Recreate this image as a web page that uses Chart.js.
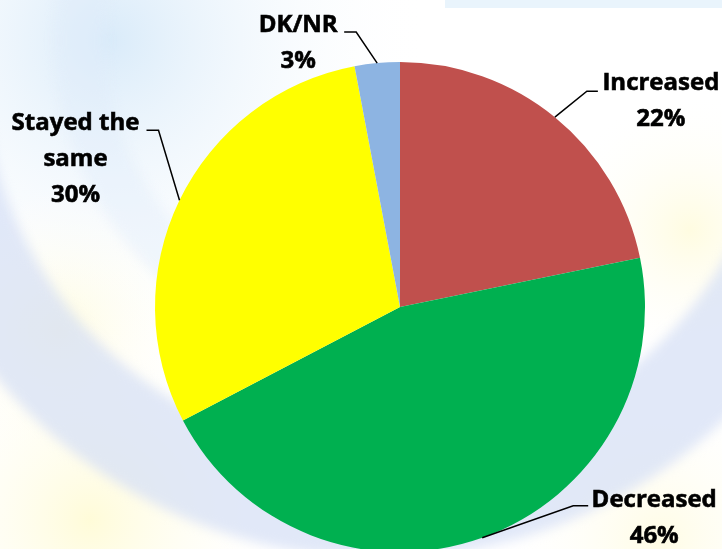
<!DOCTYPE html>
<html>
<head>
<meta charset="utf-8">
<script src="https://cdn.jsdelivr.net/npm/chart.js@4/dist/chart.umd.min.js"></script>
<style>
  html, body { margin: 0; padding: 0; background: #fff; overflow: hidden; }
  #wrap { width: 722px; height: 549px; overflow: hidden; }
</style>
</head>
<body>
<div id="wrap"><canvas id="pieChart" width="722" height="552"></canvas></div>
<script>
// data
var categories = ['Increased', 'Decreased', ['Stayed the', 'same'], 'DK/NR'];
var shares = [22, 46, 30, 3];
var sliceColors = ['#C0504D', '#00B050', '#FFFF00', '#8DB4E2'];

// where each label sits relative to the point on the rim (mid angle of the slice)
var leader = [
  { ex: 32, ey: -26, hx: 43, lx: 106, ly: -27 },
  { ex: 91, ey: -32, hx: 106, lx: 172, ly: -31 },
  { ex: -21, ey: -70, hx: -33, lx: -104, ly: -70 },
  { ex: -21, ey: -31, hx: -33, lx: -79, ly: -31 }
];

// faded watermark behind the chart
var backdrop = {
  id: 'backdrop',
  beforeDraw: function(chart) {
    var ctx = chart.ctx;
    ctx.save();
    ctx.fillStyle = '#ffffff';
    ctx.fillRect(0, 0, chart.width, chart.height);

    function glow(x, y, r, col) {
      var g = ctx.createRadialGradient(x, y, 0, x, y, r);
      g.addColorStop(0, col);
      g.addColorStop(1, 'rgba(255,255,255,0)');
      ctx.fillStyle = g;
      ctx.fillRect(0, 0, chart.width, chart.height);
    }
    glow(110, 40, 320, 'rgba(208,230,248,0.8)');
    glow(60, 330, 150, 'rgba(255,250,205,0.6)');
    glow(90, 520, 200, 'rgba(255,250,200,0.7)');
    glow(690, 230, 140, 'rgba(255,250,205,0.6)');
    glow(660, 540, 160, 'rgba(255,250,210,0.6)');

    ctx.filter = 'blur(6px)';
    ctx.beginPath();
    ctx.arc(380, 60, 448, 0.25, Math.PI - 0.1);
    ctx.lineWidth = 100;
    ctx.strokeStyle = 'rgba(212,222,245,0.7)';
    ctx.stroke();
    ctx.beginPath();
    ctx.arc(380, 40, 300, Math.PI * 0.6, Math.PI * 1.15);
    ctx.lineWidth = 50;
    ctx.strokeStyle = 'rgba(222,236,250,0.4)';
    ctx.stroke();
    ctx.filter = 'none';

    ctx.fillStyle = 'rgba(228,241,251,0.8)';
    ctx.fillRect(445, 0, 277, 8);
    ctx.restore();
  }
};

var leaderLabels = {
  id: 'leaderLabels',
  afterDatasetsDraw: function(chart) {
    var ctx = chart.ctx;
    var arcs = chart.getDatasetMeta(0).data;
    ctx.save();
    ctx.font = 'bold 24px "Open Sans"';
    ctx.fillStyle = '#000';
    ctx.strokeStyle = '#000';
    ctx.textAlign = 'center';
    ctx.textBaseline = 'alphabetic';
    arcs.forEach(function(arc, i) {
      var p = arc.getProps(['x', 'y', 'startAngle', 'endAngle', 'outerRadius'], true);
      var mid = (p.startAngle + p.endAngle) / 2;
      var ax = p.x + Math.cos(mid) * p.outerRadius;
      var ay = p.y + Math.sin(mid) * p.outerRadius;
      var L = leader[i];
      ctx.lineWidth = 1.5;
      ctx.beginPath();
      ctx.moveTo(ax, ay);
      ctx.lineTo(ax + L.ex, ay + L.ey);
      ctx.lineTo(ax + L.hx, ay + L.ey);
      ctx.stroke();
      var lines = [].concat(categories[i]);
      lines.push(shares[i] + '%');
      ctx.lineWidth = 0.6;
      lines.forEach(function(t, k) {
        ctx.fillText(t, ax + L.lx, ay + L.ly + k * 36);
        ctx.strokeText(t, ax + L.lx, ay + L.ly + k * 36);
      });
    });
    ctx.restore();
  }
};

var ctx = document.getElementById('pieChart').getContext('2d');
var myChart = new Chart(ctx, {
  type: 'pie',
  data: {
    labels: categories,
    datasets: [{
      data: shares,
      backgroundColor: sliceColors,
      borderWidth: 0
    }]
  },
  options: {
    responsive: false,
    animation: false,
    layout: { padding: { left: 155, right: 77, top: 62, bottom: 0 } },
    plugins: {
      legend: { display: false },
      tooltip: { enabled: false }
    }
  },
  plugins: [backdrop, leaderLabels]
});
</script>
</body>
</html>
